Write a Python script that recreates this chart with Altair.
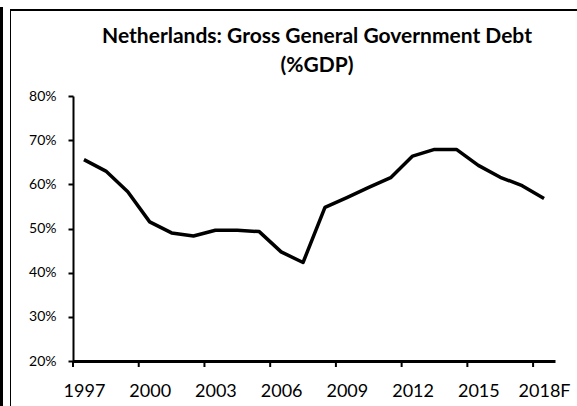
import altair as alt
import pandas as pd

years = list(range(1997, 2019))
debt = [65.6, 63.0, 58.3, 51.5, 49.0, 48.3, 49.6, 49.6, 49.3, 44.7, 42.3,
        54.8, 57.0, 59.3, 61.5, 66.4, 67.9, 67.9, 64.3, 61.6, 59.7, 56.8]
label_years = [1997, 2000, 2003, 2006, 2009, 2012, 2015, 2018]
tick_bounds = [1996.5, 1999.5, 2002.5, 2005.5, 2008.5, 2011.5, 2014.5, 2017.5]
y_ticks = [20, 30, 40, 50, 60, 70, 80]
title_lines = ["Netherlands: Gross General Government Debt", "(%GDP)"]

df = pd.DataFrame({"year": years, "debt": debt})
ticks_df = pd.DataFrame({"b": tick_bounds})

W, H = 482, 265
FONT = "Lato"

xscale = alt.Scale(domain=[1996.5, 2018.5], nice=False, zero=False)
yscale = alt.Scale(domain=[20, 80], nice=False, zero=False)

line = alt.Chart(df).mark_line(color="black", strokeWidth=3.5, strokeJoin="round").encode(
    x=alt.X("year:Q", scale=xscale,
            axis=alt.Axis(values=label_years, ticks=False, tickSize=0, grid=False,
                          domainColor="black", domainWidth=3, labelPadding=21,
                          labelFontSize=18, labelFont=FONT, labelColor="black",
                          labelExpr="datum.value == 2018 ? '2018F' : datum.value",
                          title=None, labelFlush=False)),
    y=alt.Y("debt:Q", scale=yscale,
            axis=alt.Axis(values=y_ticks, grid=False, domainColor="black", domainWidth=2,
                          tickColor="black", tickWidth=2, tickSize=5, labelPadding=12,
                          labelFontSize=14, labelFont=FONT, labelColor="black",
                          labelExpr="datum.value + '%'", title=None)),
)

xt = alt.Chart(ticks_df).mark_rule(color="black", strokeWidth=2).encode(
    x=alt.X("b:Q", scale=xscale),
    y=alt.value(H),
    y2=alt.value(H + 6),
)

frame_data = pd.DataFrame({"k": [0]})
thick = alt.Chart(frame_data).mark_rule(color="black", strokeWidth=3).encode(
    x=alt.value(-71.5), y=alt.value(-89), y2=alt.value(H + 45)
)
thin = alt.Chart(frame_data).mark_rule(color="black", strokeWidth=1).encode(
    x=alt.value(-62.5), y=alt.value(-86), y2=alt.value(H + 45)
)
top = alt.Chart(frame_data).mark_rule(color="black", strokeWidth=2).encode(
    x=alt.value(-63), x2=alt.value(W + 22), y=alt.value(-86)
)

t1 = alt.Chart(frame_data).mark_text(
    text=title_lines[0], font=FONT, fontSize=21, fontWeight="bold", color="black",
    align="center", baseline="middle"
).encode(x=alt.value(244), y=alt.value(-59))
t2 = alt.Chart(frame_data).mark_text(
    text=title_lines[1], font=FONT, fontSize=21, fontWeight="bold", color="black",
    align="center", baseline="middle"
).encode(x=alt.value(244), y=alt.value(-30))

chart = alt.layer(line, xt, thick, thin, top, t1, t2).properties(
    width=W, height=H,
    background="white",
    autosize=alt.AutoSizeParams(type="none"),
    padding={"left": 73, "top": 96, "right": 22, "bottom": 45},
).configure_view(strokeWidth=0, stroke="transparent")

chart.save("out.html", embed_options={"renderer": "svg", "actions": False})
